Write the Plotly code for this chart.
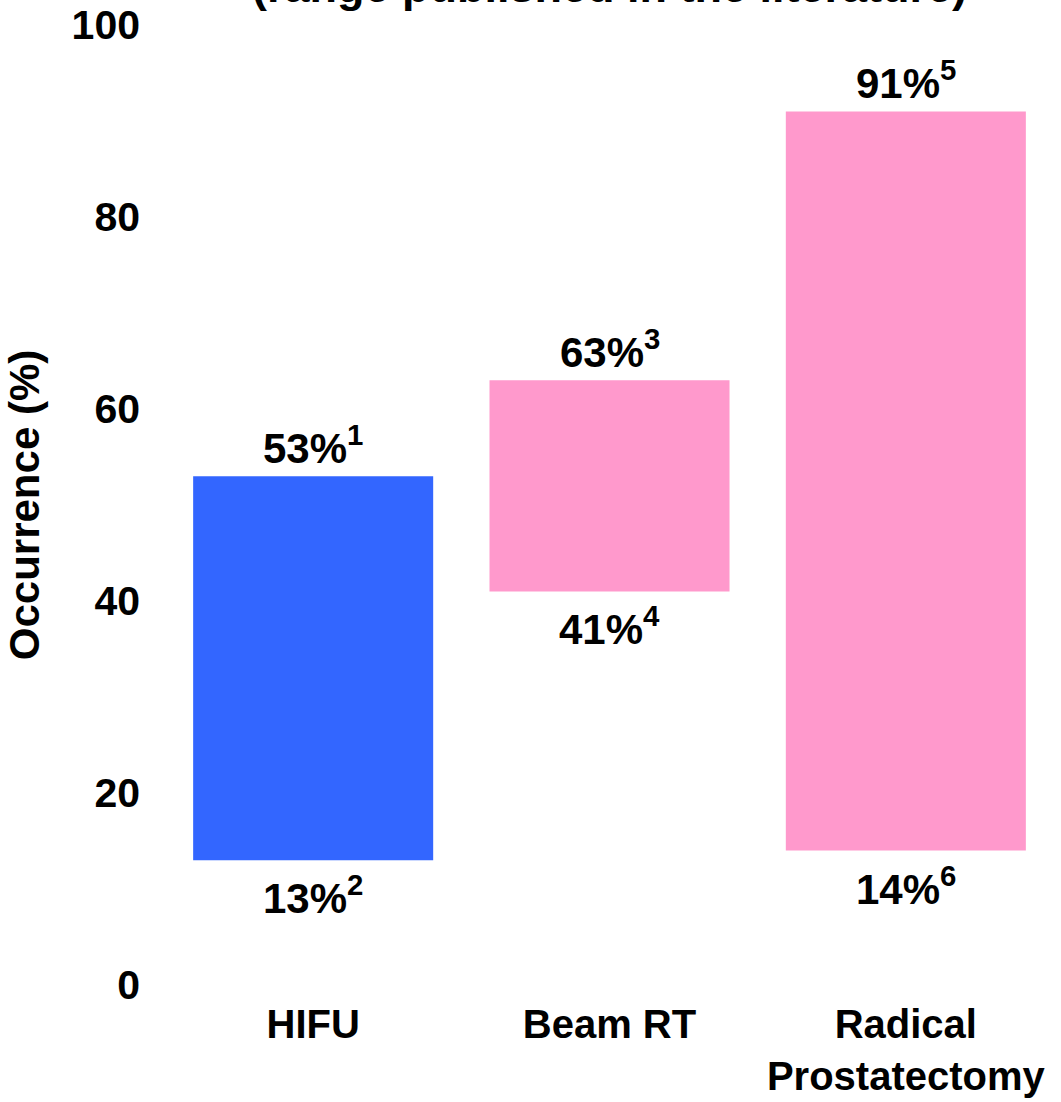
import plotly.graph_objects as go

# Reported range of occurrence per treatment (low / high, %)
categories = ["HIFU", "Beam RT", "Radical<br>Prostatectomy"]
low_values = [13, 41, 14]
high_values = [53, 63, 91]
low_refs = ["2", "4", "6"]
high_refs = ["1", "3", "5"]
bar_colors = ["#3366FF", "#FF99CC", "#FF99CC"]

y_ticks = [0, 20, 40, 60, 80, 100]

FONT = "Liberation Sans, Arial, sans-serif"

fig = go.Figure()

fig.add_trace(go.Bar(
    x=categories,
    y=[h - l for h, l in zip(high_values, low_values)],
    base=low_values,
    marker=dict(color=bar_colors, line=dict(width=0)),
    width=0.81,
    hoverinfo="skip",
    showlegend=False,
))

annotations = []
for cat, lo, hi, rlo, rhi in zip(categories, low_values, high_values, low_refs, high_refs):
    annotations.append(dict(
        x=cat, y=hi, xref="x", yref="y",
        text=f"<b>{hi}%<sup>{rhi}</sup></b>",
        showarrow=False, yanchor="bottom", yshift=2,
        font=dict(family=FONT, size=42, color="black"),
    ))
    annotations.append(dict(
        x=cat, y=lo, xref="x", yref="y",
        text=f"<b>{lo}%<sup>{rlo}</sup></b>",
        showarrow=False, yanchor="top", yshift=-6,
        font=dict(family=FONT, size=42, color="black"),
    ))

# Title line sitting above the plotting area
annotations.append(dict(
    x=0.5, y=1, xref="paper", yref="paper",
    text="<b>(range published in the literature)</b>",
    showarrow=False, yanchor="bottom", yshift=12, borderpad=0,
    font=dict(family=FONT, size=45, color="black"),
))

fig.update_layout(
    width=1061, height=1102,
    margin=dict(l=165, r=7, t=25, b=117),
    paper_bgcolor="white", plot_bgcolor="white",
    font=dict(family=FONT, size=41, color="black"),
    annotations=annotations,
    bargap=0.19,
)

fig.update_yaxes(
    range=[0, 100],
    tickvals=y_ticks,
    ticktext=[f"<b>{v}</b>" for v in y_ticks],
    tickfont=dict(family=FONT, size=41, color="black"),
    showgrid=False, zeroline=False, showline=False,
    ticks="", ticklabelstandoff=24, automargin=False,
    title=dict(text="<b>Occurrence (%)</b>", font=dict(family=FONT, size=42, color="black"), standoff=18),
)

fig.update_xaxes(
    tickvals=categories,
    ticktext=[f"<b>{c}</b>" for c in categories],
    tickfont=dict(family=FONT, size=40, color="black"),
    showgrid=False, zeroline=False, showline=False,
    ticks="", ticklabelstandoff=12, automargin=False,
)

fig.write_html("out.html")
